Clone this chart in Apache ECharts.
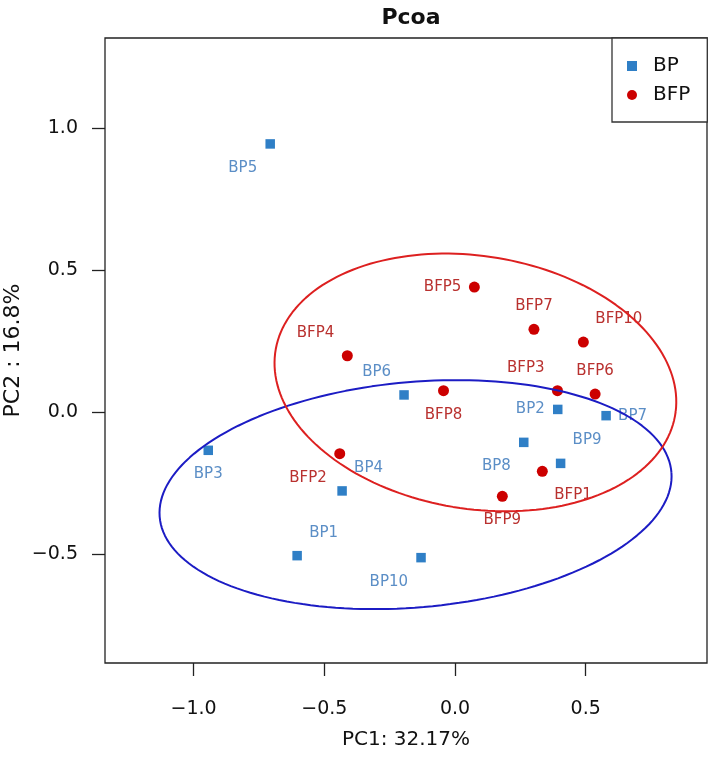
<!DOCTYPE html>
<html>
<head>
<meta charset="utf-8">
<script src="https://cdn.jsdelivr.net/npm/echarts@6/dist/echarts.min.js"></script>
<style>html,body{margin:0;padding:0;background:#fff}#c{width:709px;height:760px}</style>
</head>
<body>
<div id="c"></div>
<script>
// ---- data ----
const bpNames = ['BP1','BP2','BP3','BP4','BP5','BP6','BP7','BP8','BP9','BP10'];
const bpX = [-0.604, 0.393, -0.944, -0.432, -0.707, -0.195, 0.578, 0.263, 0.404, -0.130];
const bpY = [-0.505, 0.010, -0.134, -0.277, 0.945, 0.061, -0.012, -0.106, -0.180, -0.512];
const bfpNames = ['BFP1','BFP2','BFP3','BFP4','BFP5','BFP6','BFP7','BFP8','BFP9','BFP10'];
const bfpX = [0.334, -0.441, 0.392, -0.412, 0.074, 0.536, 0.302, -0.044, 0.181, 0.491];
const bfpY = [-0.208, -0.146, 0.076, 0.199, 0.441, 0.064, 0.292, 0.076, -0.296, 0.247];
// ellipses: [centerX, centerY, semiMajor, semiMinor, angleDeg]
const bpEllipse = [-0.151, -0.290, 0.982, 0.397, 4.5];
const bfpEllipse = [0.078, 0.105, 0.773, 0.446, -7.6];
const xTicks = [-1.0, -0.5, 0.0, 0.5];
const yTicks = [-0.5, 0.0, 0.5, 1.0];

// label placement (style, not data)
const bpSides = ['tr','l','b','tr','bl','tl','r','bl','tr','bl'];
const bfpSides = ['br','bl','tl','tl','l','t','t','b','b','tr'];

function labelFor(side, color) {
  let dx = 0, dy = 0, align = 'center';
  if (side.includes('l')) { dx = -13; align = 'right'; }
  if (side.includes('r')) { dx = 12; align = 'left'; }
  if (side.includes('t')) dy = -23;
  if (side.includes('b')) dy = 24;
  return { show: true, position: 'inside', align: align, verticalAlign: 'middle',
           offset: [dx, dy], color: color, fontSize: 15, fontFamily: 'DejaVu Sans' };
}
function pts(names, xs, ys, sides, color) {
  return names.map((n, i) => ({ name: n, value: [xs[i], ys[i]],
    label: Object.assign(labelFor(sides[i], color), { formatter: n }) }));
}
function ellipse(e) {
  const [cx, cy, a, b, ang] = e;
  const p = ang * Math.PI / 180, out = [];
  for (let k = 0; k <= 360; k += 2) {
    const t = k * Math.PI / 180;
    out.push([cx + a * Math.cos(t) * Math.cos(p) - b * Math.sin(t) * Math.sin(p),
              cy + a * Math.cos(t) * Math.sin(p) + b * Math.sin(t) * Math.cos(p)]);
  }
  return out;
}
const fmt = v => v.toFixed(1).replace('-', '\u2212');
const axisFont = { fontFamily: 'DejaVu Sans', fontSize: 19, color: '#111' };

const chart = echarts.init(document.getElementById('c'), null, { renderer: 'canvas' });
chart.setOption({
  animation: false,
  backgroundColor: '#fff',
  title: { text: 'Pcoa', left: 406, top: 2, textAlign: 'center',
    textStyle: { fontFamily: 'DejaVu Sans', fontWeight: 'bold', fontSize: 22, color: '#111' } },
  grid: { left: 105, top: 38, right: 2, bottom: 97, show: true, borderColor: '#222', borderWidth: 1.3,
    backgroundColor: 'transparent', containLabel: false, outerBoundsMode: 'none' },
  legend: {
    orient: 'vertical', left: 612, top: 38, data: [
      { name: 'BP', icon: 'rect', itemStyle: { color: '#2f7fc6', opacity: 1 } },
      { name: 'BFP', icon: 'circle', itemStyle: { color: '#cc0000', opacity: 1 } }],
    itemWidth: 10, itemHeight: 10, itemGap: 9,
    padding: [18, 17, 17, 15], borderColor: '#333', borderWidth: 1.3, backgroundColor: '#fff',
    textStyle: { fontFamily: 'DejaVu Sans', fontSize: 20, color: '#111', lineHeight: 20, padding: [0, 0, 0, 11] }
  },
  xAxis: {
    type: 'value', min: -1.339, max: 0.964,
    name: 'PC1: 32.17%', nameLocation: 'middle', nameGap: 67, nameMoveOverlap: false,
    nameTextStyle: { fontFamily: 'DejaVu Sans', fontSize: 20, color: '#111' },
    axisLine: { show: false, onZero: false },
    axisTick: { show: true, inside: false, length: 13, customValues: xTicks, lineStyle: { color: '#222', width: 1.3 } },
    axisLabel: { customValues: xTicks, margin: 37, formatter: fmt, ...axisFont },
    splitLine: { show: false }
  },
  yAxis: {
    type: 'value', min: -0.883, max: 1.318,
    name: 'PC2 : 16.8%', nameLocation: 'middle', nameGap: 81, nameRotate: 90, nameMoveOverlap: false,
    nameTextStyle: { fontFamily: 'DejaVu Sans', fontSize: 22, color: '#111' },
    axisLine: { show: false, onZero: false },
    axisTick: { show: true, inside: false, length: 13, customValues: yTicks, lineStyle: { color: '#222', width: 1.3 } },
    axisLabel: { customValues: yTicks, margin: 27, formatter: fmt, ...axisFont },
    splitLine: { show: false }
  },
  series: [
    { name: 'BP', type: 'scatter', symbol: 'rect', symbolSize: 9.5, z: 3,
      itemStyle: { color: '#2f7fc6', opacity: 1 }, data: pts(bpNames, bpX, bpY, bpSides, '#5b8ec6') },
    { name: 'BFP', type: 'scatter', symbol: 'circle', symbolSize: 11, z: 3,
      itemStyle: { color: '#cc0000', opacity: 1 }, data: pts(bfpNames, bfpX, bfpY, bfpSides, '#b9312f') },
    { name: 'BP ellipse', type: 'line', data: ellipse(bpEllipse), showSymbol: false, z: 4,
      lineStyle: { color: '#1c1cc4', width: 2 }, silent: true },
    { name: 'BFP ellipse', type: 'line', data: ellipse(bfpEllipse), showSymbol: false, z: 4,
      lineStyle: { color: '#dd2020', width: 2 }, silent: true }
  ]
});
</script>
</body>
</html>
